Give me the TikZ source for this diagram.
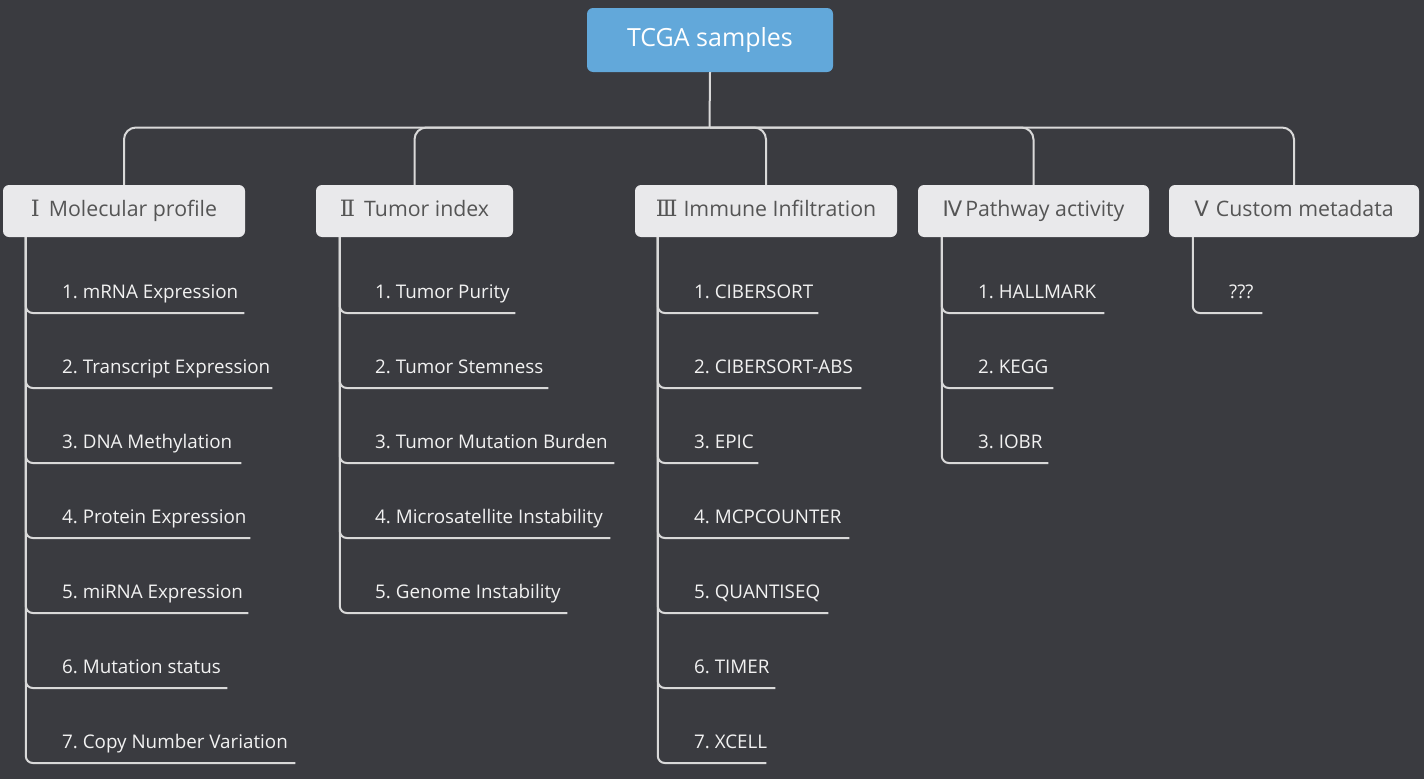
\documentclass[tikz,border=0pt]{standalone}
\usepackage{fontspec}
\setmainfont{Open Sans}
\newfontfamily\numserif{DejaVu Serif}
\newfontfamily\numsans{DejaVu Sans}
\definecolor{bgc}{HTML}{3A3B40}
\definecolor{rootc}{HTML}{62A8DA}
\definecolor{catc}{HTML}{E9E9EB}
\definecolor{cattext}{HTML}{555555}
\definecolor{linec}{HTML}{D9D9D9}
\definecolor{leaftext}{HTML}{F2F2F2}
\newcommand{\lf}[2]{\makebox[#1pt][l]{#2}}
\begin{document}
\begin{tikzpicture}[x=1pt,y=-1pt,
  rootbox/.style={fill=rootc, rounded corners=6pt, minimum width=246pt, minimum height=64pt,
    inner sep=0pt, text=white, font=\fontsize{25}{30}\selectfont},
  catbox/.style={fill=catc, rounded corners=6pt, minimum height=52pt, inner sep=0pt,
    text height=15pt, text depth=4.8pt,
    text=cattext, font=\fontsize{21.3}{25}\selectfont},
  leaf/.style={anchor=south west, inner sep=0pt, text depth=14pt, text height=15pt,
    text=leaftext, font=\fontsize{18.8}{22}\selectfont\frenchspacing},
  conn/.style={draw=linec, line width=2pt},
  trunk/.style={conn, rounded corners=12pt},
  twig/.style={conn, rounded corners=7pt}]
\fill[bgc] (0,0) rectangle (1424,779);
\useasboundingbox (0,0) rectangle (1424,779);

% root
\node[rootbox] (root) at (710,40) {TCGA samples};
\coordinate (hub) at (709.5,127.5);

% categories
\node[catbox, minimum width=242pt] (c1) at (124,211) {{\numserif\fontsize{22.5}{25}\selectfont Ⅰ}\hspace{9pt}Molecular profile};
\node[catbox, minimum width=197pt] (c2) at (414.5,211) {{\numserif\fontsize{22.5}{25}\selectfont Ⅱ}\hspace{9pt}Tumor index};
\node[catbox, minimum width=262pt] (c3) at (766,211) {{\numserif\fontsize{22.5}{25}\selectfont Ⅲ}\hspace{6pt}Immune Infiltration};
\node[catbox, minimum width=231pt] (c4) at (1033.5,211) {{\numsans Ⅳ}\hspace{3pt}Pathway activity};
\node[catbox, minimum width=250pt] (c5) at (1294,211) {{\numsans Ⅴ}\hspace{7pt}Custom metadata};

\draw[conn] (root.south) -- (hub);
\foreach \c in {c1,c2,c3,c4,c5} \draw[trunk] (hub) -| (\c.north);

% stem coordinates
\coordinate (v1) at ([xshift=23pt]c1.south west);
\coordinate (v2) at ([xshift=24pt]c2.south west);
\coordinate (v3) at ([xshift=23pt]c3.south west);
\coordinate (v4) at ([xshift=24pt]c4.south west);
\coordinate (v5) at ([xshift=24pt]c5.south west);

% I
\node[leaf] (l11) at (62,313) {\lf{182}{1. mRNA Expression}};
\node[leaf] (l12) at (62,388) {\lf{210}{2. Transcript Expression}};
\node[leaf] (l13) at (62,463) {\lf{179}{3. DNA Methylation}};
\node[leaf] (l14) at (62,538) {\lf{188}{4. Protein Expression}};
\node[leaf] (l15) at (62,613) {\lf{186}{5. miRNA Expression}};
\node[leaf] (l16) at (62,688) {\lf{165}{6. Mutation status}};
\node[leaf] (l17) at (62,763) {\lf{233}{7. Copy Number Variation}};
\foreach \l in {l11,l12,l13,l14,l15,l16,l17} \draw[twig] (v1) |- (\l.south east);

% II
\node[leaf] (l21) at (375,313) {\lf{140}{1. Tumor Purity}};
\node[leaf] (l22) at (375,388) {\lf{173}{2. Tumor Stemness}};
\node[leaf] (l23) at (375,463) {\lf{239}{3. Tumor Mutation Burden}};
\node[leaf] (l24) at (375,538) {\lf{235}{4. Microsatellite Instability}};
\node[leaf] (l25) at (375,613) {\lf{192}{5. Genome Instability}};
\foreach \l in {l21,l22,l23,l24,l25} \draw[twig] (v2) |- (\l.south east);

% III
\node[leaf] (l31) at (694,313) {\lf{124}{1. CIBERSORT}};
\node[leaf] (l32) at (694,388) {\lf{167}{2. CIBERSORT-ABS}};
\node[leaf] (l33) at (694,463) {\lf{64}{3. EPIC}};
\node[leaf] (l34) at (694,538) {\lf{155}{4. MCPCOUNTER}};
\node[leaf] (l35) at (694,613) {\lf{134}{5. QUANTISEQ}};
\node[leaf] (l36) at (694,688) {\lf{81}{6. TIMER}};
\node[leaf] (l37) at (694,763) {\lf{72}{7. XCELL}};
\foreach \l in {l31,l32,l33,l34,l35,l36,l37} \draw[twig] (v3) |- (\l.south east);

% IV
\node[leaf] (l41) at (978,313) {\lf{126}{1. HALLMARK}};
\node[leaf] (l42) at (978,388) {\lf{75}{2. KEGG}};
\node[leaf] (l43) at (978,463) {\lf{70}{3. IOBR}};
\foreach \l in {l41,l42,l43} \draw[twig] (v4) |- (\l.south east);

% V
\node[leaf] (l51) at (1229,313) {\lf{33}{???}};
\draw[twig] (v5) |- (l51.south east);
\end{tikzpicture}
\end{document}
